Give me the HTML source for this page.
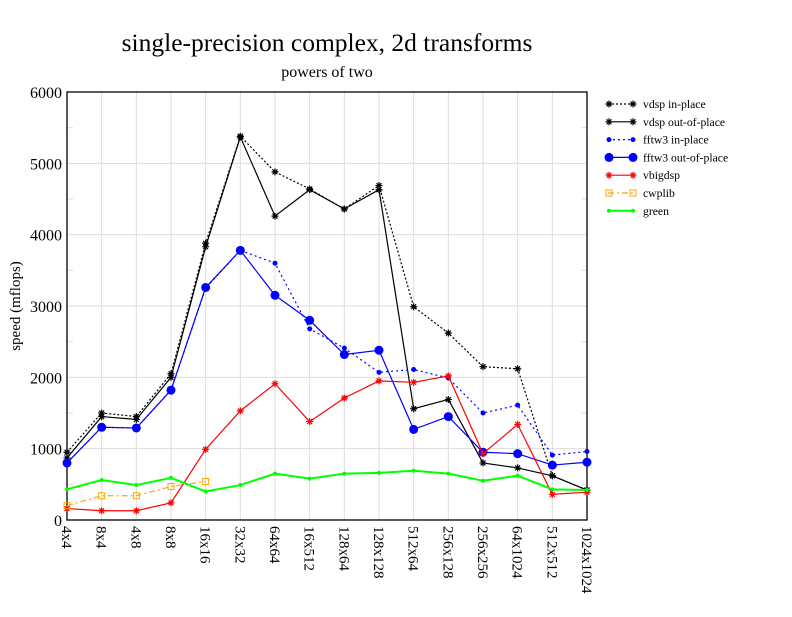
<!DOCTYPE html>
<html><head><meta charset="utf-8"><style>
body{margin:0;background:#fff;width:792px;height:612px;overflow:hidden}
svg text{font-family:"Liberation Serif",serif;fill:#000}
</style></head><body>
<svg id="s" width="792" height="612" xmlns="http://www.w3.org/2000/svg"></svg>
<script>
const s=document.getElementById('s');
const L=67,R=587,T=92,B=520;
const X=i=>L+(R-L)*i/15, Y=v=>B-(B-T)*v/6000;
let h='';
h+='<text x="327" y="51" font-size="25.5" text-anchor="middle">single-precision complex, 2d transforms</text>';
h+='<text x="327" y="77" font-size="16" text-anchor="middle">powers of two</text>';
h+='<text transform="translate(20,306) rotate(-90)" font-size="15" text-anchor="middle">speed (mflops)</text>';
for(let i=1;i<15;i++)h+=`<line x1="${X(i)}" y1="${T}" x2="${X(i)}" y2="${B}" stroke="#ddd"/>`;
for(let v=1000;v<6000;v+=1000)h+=`<line x1="${L}" y1="${Y(v)}" x2="${R}" y2="${Y(v)}" stroke="#ddd"/>`;
for(let v=500;v<6000;v+=1000){h+=`<line x1="${L}" y1="${Y(v)}" x2="${L+6}" y2="${Y(v)}" stroke="#ddd"/><line x1="${R-6}" y1="${Y(v)}" x2="${R}" y2="${Y(v)}" stroke="#ddd"/>`;}
h+=`<rect x="${L}" y="${T}" width="${R-L}" height="${B-T}" fill="none" stroke="#000" stroke-width="1.3"/>`;
for(let v=0;v<=6000;v+=1000)h+=`<text x="${L-5}" y="${Y(v)+6}" font-size="16" text-anchor="end">${v}</text>`;
const labs=["4x4","8x4","4x8","8x8","16x16","32x32","64x64","16x512","128x64","128x128","512x64","256x128","256x256","64x1024","512x512","1024x1024"];
labs.forEach((l,i)=>h+=`<text transform="translate(${X(i)-5},526) rotate(90)" font-size="15">${l}</text>`);
function star(x,y,c,r){return `<path d="M${x-r},${y}h${2*r}M${x},${y-r}v${2*r}M${x-r*.7},${y-r*.7}l${1.4*r},${1.4*r}M${x-r*.7},${y+r*.7}l${1.4*r},${-1.4*r}" stroke="${c}" stroke-width="1.2"/>`}
const series=[
{c:"#000",d:"2,2",m:"star",v:[950,1500,1450,2050,3880,5380,4880,4640,4360,4690,2990,2620,2150,2120,620,420]},
{c:"#000",d:"",m:"star",v:[870,1450,1410,2000,3830,5370,4260,4630,4360,4630,1560,1690,800,730,620,420]},
{c:"#00f",d:"2,3",m:"sdot",v:[800,1300,1290,1820,3250,3780,3600,2680,2410,2070,2110,1990,1500,1610,910,960]},
{c:"#00f",d:"",m:"dot",v:[800,1300,1290,1820,3260,3780,3150,2800,2320,2380,1270,1450,950,930,770,810]},
{c:"#f00",d:"",m:"star",v:[160,130,130,240,990,1530,1910,1380,1710,1950,1930,2020,930,1340,360,390]},
{c:"#ffa500",d:"6,3,2,3",m:"sq",v:[200,340,340,470,540]},
{c:"#0f0",d:"",m:"g",w:2,v:[430,560,490,590,400,490,650,580,650,660,690,650,550,620,430,420]}];
function mark(se,x,y){
 if(se.m=="star")return star(x,y,se.c,3.5);
 if(se.m=="sdot")return `<circle cx="${x}" cy="${y}" r="2.5" fill="${se.c}"/>`;
 if(se.m=="dot")return `<circle cx="${x}" cy="${y}" r="4.5" fill="${se.c}"/>`;
 if(se.m=="sq")return `<rect x="${x-3}" y="${y-3}" width="6" height="6" fill="none" stroke="${se.c}"/>`;
 return `<circle cx="${x}" cy="${y}" r="2" fill="${se.c}"/>`;}
const names=["vdsp in-place","vdsp out-of-place","fftw3 in-place","fftw3 out-of-place","vbigdsp","cwplib","green"];
series.forEach((se,k)=>{
 const pts=se.v.map((v,i)=>X(i)+","+Y(v)).join(" ");
 h+=`<polyline points="${pts}" fill="none" stroke="${se.c}" stroke-width="${se.w||1.2}" stroke-dasharray="${se.d}"/>`;
 se.v.forEach((v,i)=>h+=mark(se,X(i),Y(v)));
 const ly=104+k*17.8;
 h+=`<line x1="608" y1="${ly}" x2="633" y2="${ly}" stroke="${se.c}" stroke-width="${se.w||1.2}" stroke-dasharray="${se.d}"/>`+mark(se,609,ly)+mark(se,633,ly);
 h+=`<text x="643" y="${ly+4}" font-size="11.7">${names[k]}</text>`;
});
s.innerHTML=h;
</script>
</body></html>
